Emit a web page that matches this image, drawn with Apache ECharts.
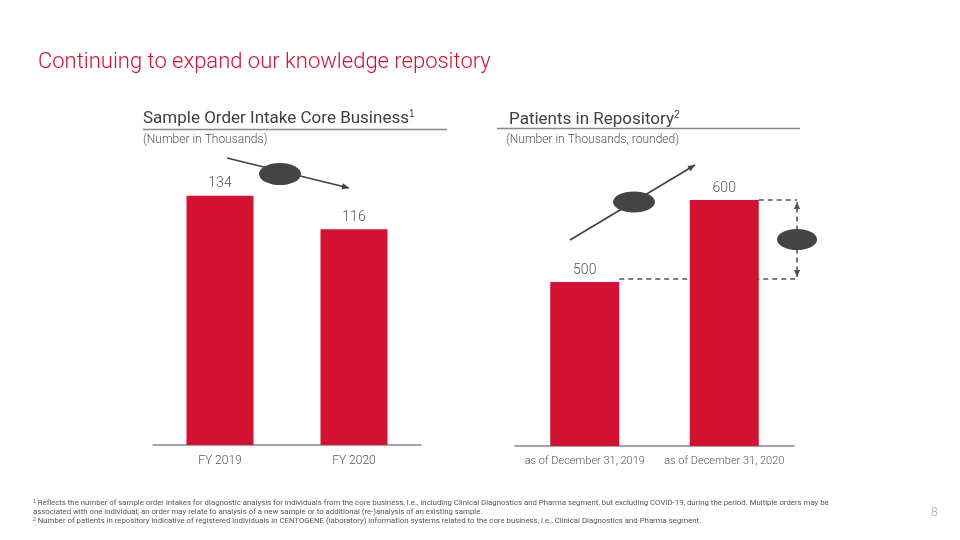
<!DOCTYPE html>
<html><head><meta charset="utf-8">
<script src="https://cdn.jsdelivr.net/npm/echarts@6/dist/echarts.min.js"></script>
<style>html,body{margin:0;padding:0;background:#fff}#c{width:960px;height:540px}</style>
</head><body><div id="c"></div>
<script>
const leftCategories = ['FY 2019', 'FY 2020'];
const leftValues = [134, 116];
const rightCategories = ['as of December 31, 2019', 'as of December 31, 2020'];
const rightValues = [500, 600];

const RED = '#D31130';
const FONT = 'Roboto';
const chart = echarts.init(document.getElementById('c'), null, {renderer: 'canvas'});

function arrowHead(x1, y1, x2, y2, size) {
  const a = Math.atan2(y2 - y1, x2 - x1);
  const w = size * 0.45;
  const bx = x2 - size * Math.cos(a), by = y2 - size * Math.sin(a);
  return [[x2, y2], [bx + w * Math.sin(a), by - w * Math.cos(a)], [bx - w * Math.sin(a), by + w * Math.cos(a)]];
}
function arrow(x1, y1, x2, y2, color, dash, both) {
  const els = [{type: 'line', shape: {x1, y1, x2, y2}, style: {stroke: color, lineWidth: 1.6, lineDash: dash || null}, silent: true}];
  els.push({type: 'polygon', shape: {points: arrowHead(x1, y1, x2, y2, 7)}, style: {fill: color}, silent: true});
  if (both) els.push({type: 'polygon', shape: {points: arrowHead(x2, y2, x1, y1, 7)}, style: {fill: color}, silent: true});
  return els;
}
function ellipse(cx, cy, rx, ry) {
  return {type: 'circle', x: cx, y: cy, scaleX: rx / ry, shape: {cx: 0, cy: 0, r: ry}, style: {fill: '#444'}, silent: true, z: 10};
}

const baseGraphic = [
  {type: 'text', left: 38, top: 51, style: {text: 'Continuing to expand our knowledge repository', fill: RED, font: '300 22px ' + FONT}},
  {type: 'text', left: 143, top: 109, style: {text: 'Sample Order Intake Core Business{s|1}', fill: '#404040', font: '17px ' + FONT, rich: {s: {fontSize: 10, fill: '#404040', padding: [0,0,9,0]}}}},
  {type: 'line', shape: {x1: 143, y1: 129.5, x2: 447, y2: 129.5}, style: {stroke: '#888', lineWidth: 1.5}},
  {type: 'text', left: 143, top: 134, style: {text: '(Number in Thousands)', fill: '#555', font: '300 12px ' + FONT}},
  {type: 'text', left: 509, top: 110, style: {text: 'Patients in Repository{s|2}', fill: '#404040', font: '17px ' + FONT, rich: {s: {fontSize: 10, fill: '#404040', padding: [0,0,9,0]}}}},
  {type: 'line', shape: {x1: 497, y1: 128.5, x2: 800, y2: 128.5}, style: {stroke: '#888', lineWidth: 1.5}},
  {type: 'text', left: 506, top: 134, style: {text: '(Number in Thousands, rounded)', fill: '#555', font: '300 12px ' + FONT}},
  {type: 'text', left: 33, top: 499, style: {
    text: '{s|1} Reflects the number of sample order intakes for diagnostic analysis for individuals from the core business, i.e., including Clinical Diagnostics and Pharma segment, but excluding COVID-19, during the period. Multiple orders may be\nassociated with one individual; an order may relate to analysis of a new sample or to additional (re-)analysis of an existing sample.\n{s|2} Number of patients in repository indicative of registered individuals in CENTOGENE (laboratory) information systems related to the core business, i.e., Clinical Diagnostics and Pharma segment.',
    fill: '#555', font: '7.8px ' + FONT, lineHeight: 9, rich: {s: {fontSize: 5, fill: '#555', padding: [0,0,3,0]}}}},
  {type: 'text', left: 931, top: 507, style: {text: '8', fill: '#aaa', font: '300 12px ' + FONT}},
  ...arrow(227, 158, 349, 188, '#404040'),
  ellipse(280, 174, 21, 11),
  ...arrow(570, 240, 695, 165, '#404040'),
  ellipse(634, 202, 21, 10.5)
];

const catLabel = {color: '#555', fontSize: 12, fontFamily: FONT, fontWeight: 300, margin: 10, interval: 0};
const catLabelR = Object.assign({}, catLabel, {fontSize: 11});
const valLabel = {show: true, position: 'top', distance: 5, color: '#555', fontSize: 14, fontFamily: FONT, fontWeight: 300};

const option = {
  animation: false,
  grid: [
    {left: 153, top: 166, width: 268, height: 279},
    {left: 515, top: 159, width: 279, height: 287}
  ],
  xAxis: [
    {type: 'category', gridIndex: 0, data: leftCategories, axisTick: {show: false}, axisLine: {lineStyle: {color: '#888', width: 1.5}}, axisLabel: catLabel},
    {type: 'category', gridIndex: 1, data: rightCategories, axisTick: {show: false}, axisLine: {lineStyle: {color: '#888', width: 1.5}}, axisLabel: catLabelR}
  ],
  yAxis: [
    {type: 'value', gridIndex: 0, min: 0, max: 150, show: false},
    {type: 'value', gridIndex: 1, min: 300, max: 650, show: false}
  ],
  series: [
    {type: 'bar', xAxisIndex: 0, yAxisIndex: 0, data: leftValues, barWidth: 67, itemStyle: {color: RED}, label: valLabel},
    {type: 'bar', xAxisIndex: 1, yAxisIndex: 1, data: rightValues, barWidth: 69, itemStyle: {color: RED}, label: valLabel}
  ],
  graphic: baseGraphic
};
chart.setOption(option);

// dashed difference guides tied to the data scale
const p0 = chart.convertToPixel({xAxisIndex: 1, yAxisIndex: 1}, [0, rightValues[0]]);
const p1 = chart.convertToPixel({xAxisIndex: 1, yAxisIndex: 1}, [1, rightValues[1]]);
const half = 69 / 2;
const gx = 797;
const y0 = p0[1] - 3, y1 = p1[1];
const dashStyle = {stroke: '#555', lineWidth: 1.6, lineDash: [5, 4]};
const extra = [
  {type: 'line', shape: {x1: p0[0] + half, y1: y0, x2: gx, y2: y0}, style: dashStyle, silent: true},
  {type: 'line', shape: {x1: p1[0] + half, y1: y1, x2: gx, y2: y1}, style: dashStyle, silent: true},
  ...arrow(gx, (y0 + y1) / 2, gx, y1 + 2, '#555', [5, 4]),
  ...arrow(gx, (y0 + y1) / 2, gx, y0 - 2, '#555', [5, 4]),
  ellipse(gx, (y0 + y1) / 2, 20, 10.5)
];
chart.setOption({graphic: baseGraphic.concat(extra)});
</script></body></html>
